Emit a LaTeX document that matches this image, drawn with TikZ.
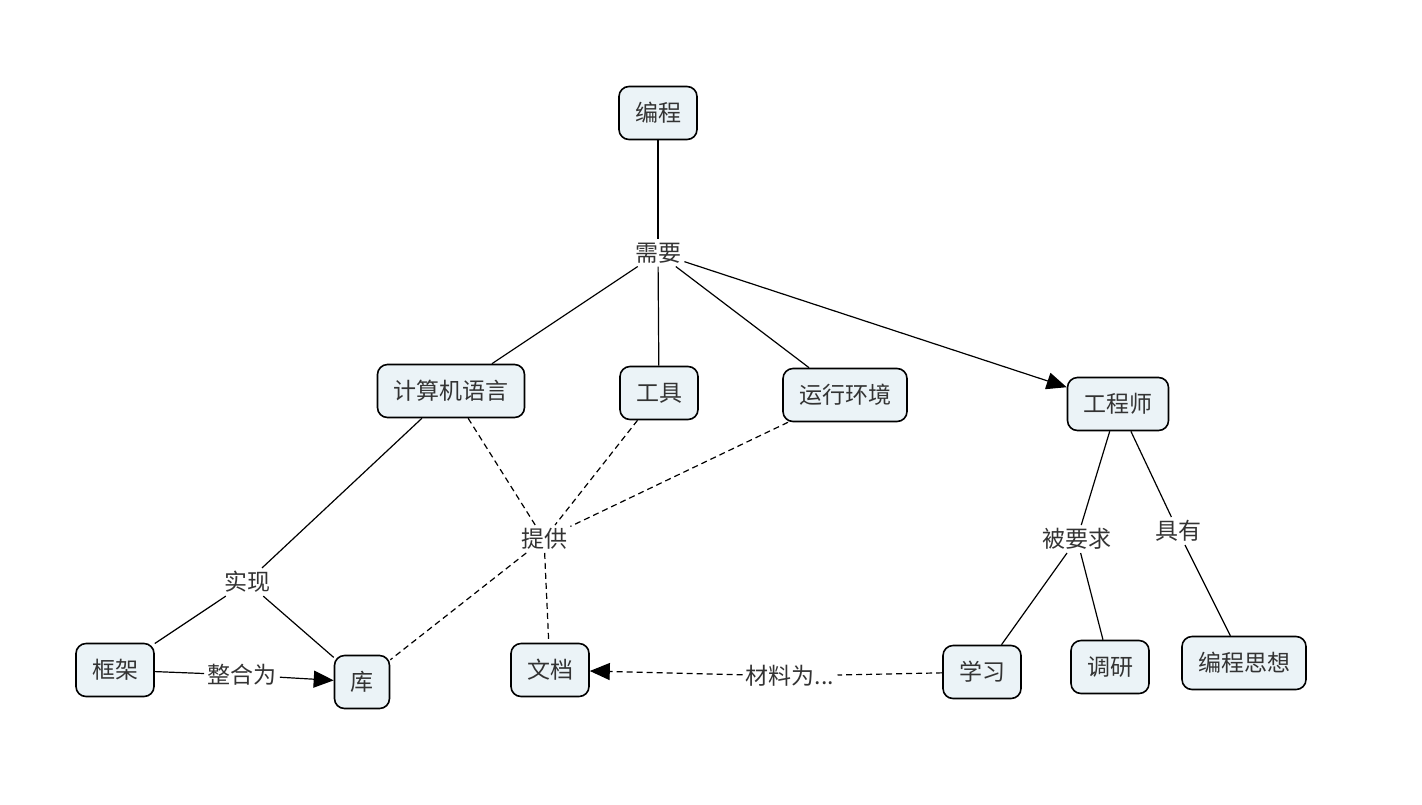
\documentclass[tikz,border=0pt]{standalone}
\usepackage{fontspec}
\newfontfamily\cjk{Noto Sans CJK SC}
\usetikzlibrary{arrows.meta}

\definecolor{conceptfill}{HTML}{EBF3F7}
\definecolor{textgray}{HTML}{333333}

\tikzset{
  concept/.style={draw=black,line width=0.8pt,rounded corners=5pt,fill=conceptfill,
    font=\cjk\fontsize{11.5}{13}\selectfont,text=textgray,inner xsep=8pt,
    minimum height=26.5pt},
  linkword/.style={fill=white,font=\cjk\fontsize{11.5}{13}\selectfont,text=textgray,
    inner sep=1.5pt},
  link/.style={draw=black,line width=0.6pt},
  dlink/.style={link,dash pattern=on 3pt off 2pt},
  tip/.style={-{Triangle[length=10pt,width=8.5pt]}}
}

\begin{document}
\begin{tikzpicture}[x=0.5pt,y=-0.5pt]
  \useasboundingbox (0,0) rectangle (1422,804);

% concepts
  \node[concept] (prog)  at (658,113)  {编程};
  \node[concept] (lang)  at (451,391)  {计算机语言};
  \node[concept] (tool)  at (659,393)  {工具};
  \node[concept] (env)   at (845,395)  {运行环境};
  \node[concept] (eng)   at (1118,404) {工程师};
  \node[concept] (frame) at (115,670)  {框架};
  \node[concept] (lib)   at (362,682)  {库};
  \node[concept] (doc)   at (550,670)  {文档};
  \node[concept] (learn) at (982,672)  {学习};
  \node[concept] (study) at (1110,667) {调研};
  \node[concept] (idea)  at (1244,663) {编程思想};

% linking phrases
  \node[linkword] (need)    at (658,253)  {需要};
  \node[linkword] (provide) at (544,539)  {提供};
  \node[linkword] (impl)    at (247,582)  {实现};
  \node[linkword] (merge)   at (242,675)  {整合为};
  \node[linkword] (ask)     at (1077,539) {被要求};
  \node[linkword] (have)    at (1178,531) {具有};
  \node[linkword] (mat)     at (790,676)  {材料为...};

% solid connectors
  \draw[link] (prog) -- (need);
  \draw[link] (need) -- (lang);
  \draw[link] (need) -- (tool);
  \draw[link] (need) -- (env);
  \draw[link,tip] (need) -- (eng);
  \draw[link] (lang) -- (impl);
  \draw[link] (impl) -- (frame);
  \draw[link] (impl) -- (lib);
  \draw[link] (frame) -- (merge);
  \draw[link,tip] (merge) -- (lib);
  \draw[link] (eng) -- (ask);
  \draw[link] (eng) -- (have);
  \draw[link] (ask) -- (learn);
  \draw[link] (ask) -- (study);
  \draw[link] (have) -- (idea);

% dashed connectors
  \draw[dlink] (lang) -- (provide);
  \draw[dlink] (tool) -- (provide);
  \draw[dlink] (env) -- (provide);
  \draw[dlink] (provide) -- (lib);
  \draw[dlink] (provide) -- (doc);
  \draw[dlink] (learn) -- (mat);
  \draw[dlink,tip] (mat) -- (doc);

\end{tikzpicture}
\end{document}
